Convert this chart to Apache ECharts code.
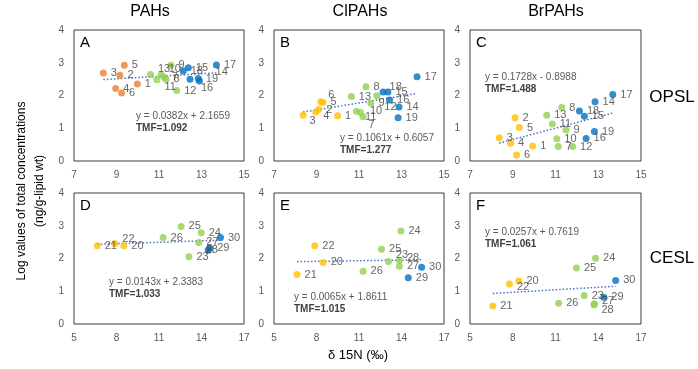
<!DOCTYPE html>
<html lang="en">
<head>
<meta charset="UTF-8">
<title>TMF scatter</title>
<script src="https://cdn.jsdelivr.net/npm/echarts@6/dist/echarts.min.js"></script>
</head>
<body style="margin:0">
<div id="main" style="width:698px;height:369px"></div>
<script>
  // point = [d15N, log conc, sample id]
  const pahOpslLow = [[9.98,2.35,'1'],[9.16,2.62,'2'],[8.38,2.69,'3'],[8.96,2.21,'4'],[9.37,2.92,'5'],[9.24,2.08,'6']];
  const pahOpslMid = [[11.25,2.56,'7'],[11.33,2.50,'8'],[11.56,2.92,'9'],[11.1,2.63,'10'],[10.9,2.48,'11'],[11.83,2.15,'12'],[10.6,2.64,'13']];
  const pahOpslHigh = [[12.46,2.50,'14'],[12.38,2.85,'15'],[12.9,2.44,'16'],[13.7,2.93,'17'],[12.14,2.75,'18'],[12.85,2.52,'19']];

  const clOpslLow = [[9.99,1.38,'1'],[9.11,1.57,'2'],[8.37,1.40,'3'],[8.97,1.50,'4'],[9.31,1.79,'5'],[9.20,1.81,'6']];
  const clOpslMid = [[11.19,1.35,'7'],[11.33,2.27,'8'],[11.56,1.76,'9'],[10.88,1.52,'10'],[11.07,1.48,'11'],[11.84,1.99,'12'],[10.64,1.97,'13']];
  const clOpslHigh = [[12.88,1.65,'14'],[12.36,2.11,'15'],[12.44,1.86,'16'],[13.73,2.57,'17'],[12.13,2.11,'18'],[12.84,1.32,'19']];

  const brOpslLow = [[9.93,0.46,'1'],[9.11,1.32,'2'],[8.37,0.71,'3'],[8.90,0.54,'4'],[9.31,1.02,'5'],[9.18,0.18,'6']];
  const brOpslMid = [[11.13,0.44,'7'],[11.29,1.63,'8'],[11.49,0.95,'9'],[11.06,0.68,'10'],[10.85,1.13,'11'],[11.80,0.44,'12'],[10.59,1.40,'13']];
  const brOpslHigh = [[12.85,1.81,'14'],[12.35,1.37,'15'],[12.43,0.69,'16'],[13.68,2.03,'17'],[12.12,1.53,'18'],[12.82,0.90,'19']];

  const pahCeslLow = [[8.52,2.39,'20'],[6.64,2.39,'21'],[7.88,2.46,'22']];
  const pahCeslMid = [[13.11,2.05,'23'],[13.98,2.79,'24'],[12.56,2.98,'25'],[11.29,2.64,'26'],[13.81,2.49,'27']];
  const pahCeslHigh = [[14.47,2.25,'28'],[14.58,2.31,'29'],[15.34,2.64,'30']];

  const clCeslLow = [[8.47,1.88,'20'],[6.63,1.51,'21'],[7.88,2.39,'22']];
  const clCeslMid = [[13.08,1.91,'23'],[13.96,2.84,'24'],[12.59,2.28,'25'],[11.29,1.61,'26'],[13.85,1.76,'27'],[13.85,1.94,'28']];
  const clCeslHigh = [[14.48,1.41,'29'],[15.42,1.73,'30']];

  const brCeslLow = [[8.43,1.31,'20'],[6.60,0.55,'21'],[7.77,1.22,'22']];
  const brCeslMid = [[13.01,0.87,'23'],[13.81,2.01,'24'],[12.47,1.71,'25'],[11.22,0.63,'26'],[13.73,0.62,'27'],[13.70,0.58,'28']];
  const brCeslHigh = [[14.39,0.82,'29'],[15.22,1.33,'30']];

  const panelLetters = ['A','B','C','D','E','F'];
  const slopes = [0.0382, 0.1061, 0.1728, 0.0143, 0.0065, 0.0257];
  const intercepts = [2.1659, 0.6057, -0.8988, 2.3383, 1.8611, 0.7619];
  const tmfValues = ['1.092', '1.277', '1.488', '1.033', '1.015', '1.061'];
  const columnTitles = ['PAHs', 'ClPAHs', 'BrPAHs'];
  const rowTitles = ['OPSL', 'CESL'];
  const xTitle = 'δ 15N (‰)';
  const yTitle = ['Log values of total concentrations', '(ng/g-lipid wt)'];

  const groups = [
    [pahOpslLow, pahOpslMid, pahOpslHigh],
    [clOpslLow, clOpslMid, clOpslHigh],
    [brOpslLow, brOpslMid, brOpslHigh],
    [pahCeslLow, pahCeslMid, pahCeslHigh],
    [clCeslLow, clCeslMid, clCeslHigh],
    [brCeslLow, brCeslMid, brCeslHigh]
  ];

  // layout
  const boxes = [
    [74, 30, 170, 131], [274, 30, 170, 131], [470, 30, 171, 131],
    [74, 193, 170, 131], [274, 193, 170, 131], [470, 193, 171, 131]
  ];
  const eqPos = [[136,116],[340,138],[485,77],[109,282],[294,297],[485,232]];
  const labelNudge = [
    {'13':[0,-6], '10':[0,-6], '11':[0,7], '14':[18,-7], '16':[-6,7]},
    {'3':[-1,6], '4':[0,4], '6':[0,-7], '12':[0,11], '10':[6,0], '11':[-3,4], '7':[-2,8], '18':[-1,-5]},
    {},
    {'22':[0,-4], '28':[-10,0]},
    {'23':[0,-6], '28':[0,-2]},
    {'22':[0,3], '27':[0,-3], '28':[0,5]}
  ];
  const FONT = 'Liberation Sans, Arial, sans-serif';
  const ORANGE = '#ED7D31', GOLD = '#FFC000', GREEN = '#92D050', BLUE = '#0070C0';

  var chart = echarts.init(document.getElementById('main'));

  var grid = [], xAxis = [], yAxis = [], series = [], graphic = [];
  boxes.forEach(function (b, i) {
    grid.push({left: b[0], top: b[1], width: b[2], height: b[3], show: true,
      borderColor: '#3a3a3a', borderWidth: 1, backgroundColor: 'transparent'});
    var top = i < 3;
    xAxis.push({type: 'value', gridIndex: i, min: top ? 7 : 5, max: top ? 15 : 17, interval: top ? 2 : 3,
      axisLine: {show: false}, axisTick: {show: false}, splitLine: {show: false},
      axisLabel: {fontSize: 10, color: '#595959', margin: 9, fontFamily: FONT}});
    yAxis.push({type: 'value', gridIndex: i, min: 0, max: 4, interval: 1,
      axisLine: {show: false}, axisTick: {show: false}, splitLine: {show: false},
      axisLabel: {fontSize: 10, color: '#595959', margin: 10, fontFamily: FONT}});

    var colors = [i === 0 ? ORANGE : GOLD, GREEN, BLUE];
    var allX = [];
    groups[i].forEach(function (pts, g) {
      series.push({
        type: 'scatter', xAxisIndex: i, yAxisIndex: i, symbolSize: 7,
        itemStyle: {color: colors[g]},
        label: {show: true, position: 'right', distance: 4, fontSize: 11, color: '#404040', fontFamily: FONT,
          formatter: function (p) { return p.value[2]; }},
        data: pts.map(function (p) {
          allX.push(p[0]);
          var it = {value: p};
          var n = labelNudge[i][p[2]];
          if (n) it.label = {offset: n};
          return it;
        }),
        z: 3
      });
    });
    var x0 = Math.min.apply(null, allX), x1 = Math.max.apply(null, allX);
    series.push({
      type: 'line', xAxisIndex: i, yAxisIndex: i, symbol: 'none', silent: true, z: 2,
      lineStyle: {color: '#4472C4', width: 1.5, type: [1.5, 2]},
      data: [[x0, slopes[i] * x0 + intercepts[i]], [x1, slopes[i] * x1 + intercepts[i]]]
    });

    var sign = intercepts[i] < 0 ? ' - ' : ' + ';
    var eq = 'y = ' + slopes[i].toFixed(4) + 'x' + sign + Math.abs(intercepts[i]).toFixed(4);
    graphic.push({type: 'text', x: eqPos[i][0], y: eqPos[i][1],
      style: {text: eq, fill: '#595959', font: '10px ' + FONT, textVerticalAlign: 'middle', verticalAlign: 'middle'}});
    graphic.push({type: 'text', x: eqPos[i][0], y: eqPos[i][1] + 12.5,
      style: {text: 'TMF=' + tmfValues[i], fill: '#404040', font: 'bold 10px ' + FONT, textVerticalAlign: 'middle', verticalAlign: 'middle'}});
    graphic.push({type: 'text', x: b[0] + 6, y: b[1] + 13,
      style: {text: panelLetters[i], fill: '#000', font: '15px ' + FONT, textVerticalAlign: 'middle', verticalAlign: 'middle'}});
  });

  var colCenters = [150, 360, 556];
  columnTitles.forEach(function (t, k) {
    graphic.push({type: 'text', x: colCenters[k], y: 12,
      style: {text: t, fill: '#000', font: '16px ' + FONT, textAlign: 'center', align: 'center', textVerticalAlign: 'middle', verticalAlign: 'middle'}});
  });
  [97, 258].forEach(function (y, k) {
    graphic.push({type: 'text', x: 672, y: y,
      style: {text: rowTitles[k], fill: '#000', font: '17px ' + FONT, textAlign: 'center', align: 'center', textVerticalAlign: 'middle', verticalAlign: 'middle'}});
  });
  [22, 40].forEach(function (x, k) {
    graphic.push({type: 'text', x: x, y: 191, rotation: Math.PI / 2,
      style: {text: yTitle[k], fill: '#000', font: '12px ' + FONT, textAlign: 'center', align: 'center', textVerticalAlign: 'middle', verticalAlign: 'middle'}});
  });
  graphic.push({type: 'text', x: 358, y: 355,
    style: {text: xTitle, fill: '#000', font: '13px ' + FONT, textAlign: 'center', align: 'center', textVerticalAlign: 'middle', verticalAlign: 'middle'}});

  chart.setOption({
    animation: false,
    backgroundColor: '#fff',
    grid: grid, xAxis: xAxis, yAxis: yAxis, series: series, graphic: graphic
  });
</script>
</body>
</html>
